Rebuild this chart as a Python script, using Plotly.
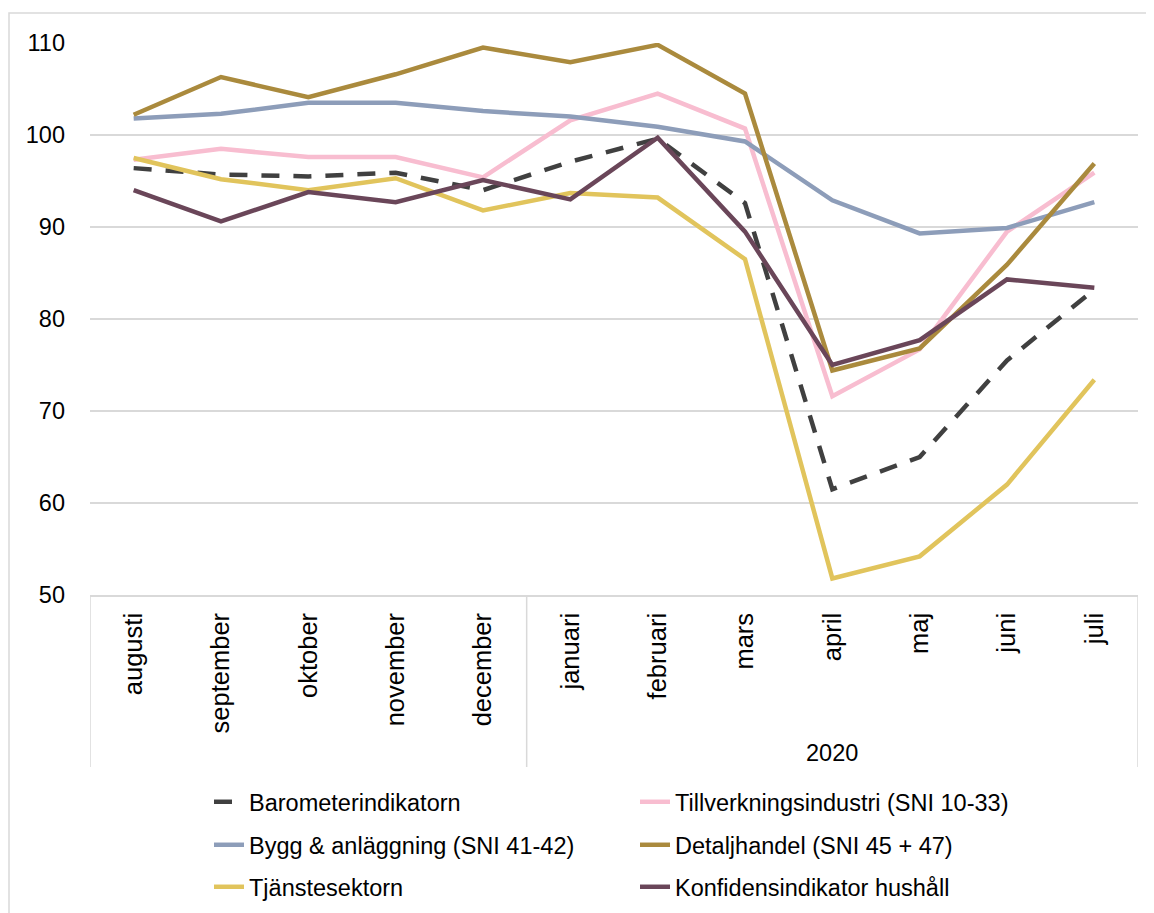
import plotly.graph_objects as go

# Månader (aug 2019 - jul 2020)
months = ["augusti", "september", "oktober", "november", "december",
          "januari", "februari", "mars", "april", "maj", "juni", "juli"]
year_label = "2020"

barometer = [96.4, 95.7, 95.5, 95.9, 94.0, 97.1, 99.6, 92.6, 61.5, 65.0, 75.5, 83.2]
tillverkning = [97.3, 98.5, 97.6, 97.6, 95.4, 101.6, 104.5, 100.7, 71.6, 76.7, 89.5, 95.9]
bygg = [101.8, 102.3, 103.5, 103.5, 102.6, 102.0, 100.9, 99.3, 92.9, 89.3, 89.9, 92.7]
detaljhandel = [102.2, 106.3, 104.1, 106.6, 109.5, 107.9, 109.8, 104.5, 74.4, 76.8, 85.9, 96.9]
tjanste = [97.5, 95.2, 94.0, 95.3, 91.8, 93.7, 93.2, 86.5, 51.8, 54.2, 62.0, 73.4]
konfidens = [94.0, 90.6, 93.8, 92.7, 95.1, 93.0, 99.7, 89.5, 75.0, 77.7, 84.3, 83.4]

y_ticks = [50, 60, 70, 80, 90, 100, 110]

SERIES = [
    ("Barometerindikatorn", barometer, "#404040", "18px,14px", "legend"),
    ("Tillverkningsindustri (SNI 10-33)", tillverkning, "#F8BDD0", "solid", "legend"),
    ("Bygg & anläggning (SNI 41-42)", bygg, "#8D9DB9", "solid", "legend2"),
    ("Detaljhandel (SNI 45 + 47)", detaljhandel, "#AA8A3D", "solid", "legend2"),
    ("Tjänstesektorn", tjanste, "#E1C45C", "solid", "legend3"),
    ("Konfidensindikator hushåll", konfidens, "#6A4659", "solid", "legend3"),
]

FONT = dict(family="Liberation Sans, Arial, sans-serif", size=23.5, color="#000000")
XFONT = dict(FONT, size=25.5)
GRID = "#D9D9D9"

fig = go.Figure()
for name, vals, color, dash, leg in SERIES:
    fig.add_trace(go.Scatter(
        x=months, y=vals, mode="lines", name=name,
        line=dict(color=color, width=4.5, dash=dash),
        legend=leg,
    ))

# sidan har 8 px marginal i body, därför mindre figur och marginaler
OFF = 8
W, H = 1154 - OFF, 913 - OFF
L, T = 90 - OFF, 43 - OFF
R = W - (1138 - OFF)
B = H - (595 - OFF)
ph = H - T - B
pw = W - L - R


def py(pix):
    # pixelposition på sidan -> paper-y
    return (595 - pix) / ph


def px(pix):
    return (pix - 90) / pw


shapes = [
    # ram runt hela diagrammet
    dict(type="rect", xref="paper", yref="paper",
         x0=px(9), x1=px(1152), y0=py(930), y1=py(13),
         line=dict(color=GRID, width=1.5)),
]
# avdelare i kategoriaxeln
for xv in [-0.5, 4.5, 11.5]:
    shapes.append(dict(type="line", xref="x", yref="paper", x0=xv, x1=xv,
                       y0=0, y1=py(767), line=dict(color=GRID, width=1.5)))

legend_base = dict(orientation="h", xanchor="left", yanchor="middle",
                   font=FONT, entrywidth=381, bgcolor="rgba(0,0,0,0)",
                   itemwidth=30)

fig.update_layout(
    width=W, height=H,
    margin=dict(l=L, r=R, t=T, b=B, autoexpand=False),
    paper_bgcolor="white", plot_bgcolor="white",
    font=FONT,
    showlegend=True,
    xaxis=dict(type="category", range=[-0.5, 11.5], tickangle=-90,
               showgrid=False, showline=True, linecolor=GRID, linewidth=1.5,
               ticks="", ticklabelstandoff=6, tickfont=XFONT),
    yaxis=dict(range=[50, 110], tickvals=y_ticks, showgrid=True,
               gridcolor=GRID, gridwidth=1.5, zeroline=False, showline=False,
               ticks="", ticklabelstandoff=24, tickfont=FONT),
    legend=dict(legend_base, x=px(209), y=py(802)),
    legend2=dict(legend_base, x=px(209), y=py(845)),
    legend3=dict(legend_base, x=px(209), y=py(887)),
    shapes=shapes,
    annotations=[dict(text=year_label, x=8, y=py(753), xref="x", yref="paper",
                      showarrow=False, font=FONT, yanchor="middle")],
)

fig.write_html("out.html")
